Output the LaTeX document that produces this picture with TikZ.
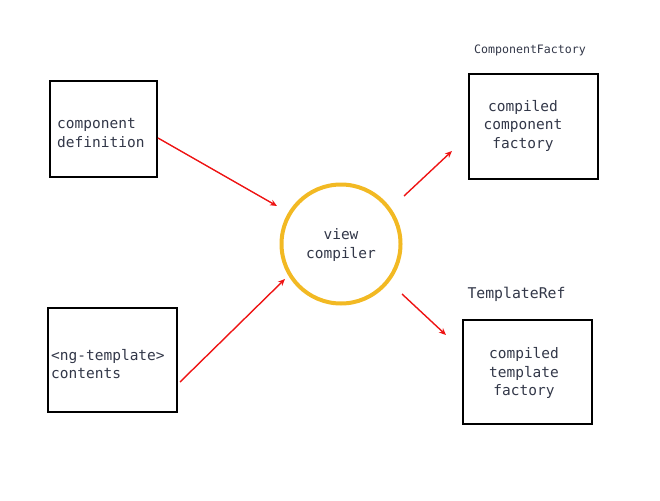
\documentclass[tikz,border=0pt]{standalone}
\usepackage{fontspec}
\setmonofont{DejaVu Sans Mono}
\usetikzlibrary{arrows.meta}
\definecolor{txt}{RGB}{50,55,72}
\definecolor{arr}{RGB}{238,20,20}
\definecolor{gold}{RGB}{242,185,35}
\tikzset{
  box/.style={draw=black, line width=2pt, rectangle, inner sep=0pt},
  lbl/.style={text=txt, font=\ttfamily\fontsize{14.5}{18.5}\selectfont, align=center, inner sep=0pt},
  lbll/.style={lbl, align=left},
  captext/.style={text=txt, inner sep=0pt},
  conn/.style={draw=arr, line width=1.4pt, -{Stealth[length=7pt,width=6pt]}},
}
\begin{document}
\begin{tikzpicture}[x=1pt,y=1pt]
\useasboundingbox (0,0) rectangle (660,-500);
% boxes
\node[box, minimum width=107pt, minimum height=96pt] (cd) at (103.5,-129) {};
\node[box, minimum width=129pt, minimum height=104pt] (ng) at (112.5,-360) {};
\node[box, minimum width=129pt, minimum height=105pt] (cf) at (533.5,-126.5) {};
\node[box, minimum width=129pt, minimum height=104pt] (tf) at (527.5,-372) {};
\node[draw=gold, line width=4pt, circle, minimum size=119pt, inner sep=0pt] (vc) at (341,-244) {};
% texts
\node[lbll, anchor=west] (cdt) at (57,-133) {component\\definition};
\node[lbll, anchor=west] (ngt) at (51,-364) {<ng-template>\\contents};
\node[lbl] (cft) at (523,-125.5) {compiled\\component\\factory};
\node[lbl] (tft) at (524,-373) {compiled\\template\\factory};
\node[lbl] (vct) at (341,-245) {view\\compiler};
\node[captext, font=\ttfamily\fontsize{11.6}{14}\selectfont] (cfl) at (530,-50) {ComponentFactory};
\node[captext, font=\ttfamily\fontsize{14.8}{18}\selectfont] (tfl) at (516.5,-294) {TemplateRef};
% connectors
\coordinate (a1) at (158,-138); \coordinate (a2) at (277,-206);
\coordinate (b1) at (180,-382); \coordinate (b2) at (285,-279);
\coordinate (c1) at (404,-196); \coordinate (c2) at (452,-151);
\coordinate (d1) at (402,-294); \coordinate (d2) at (446,-335);
\draw[conn] (a1) -- (a2);
\draw[conn] (b1) -- (b2);
\draw[conn] (c1) -- (c2);
\draw[conn] (d1) -- (d2);
\end{tikzpicture}
\end{document}
